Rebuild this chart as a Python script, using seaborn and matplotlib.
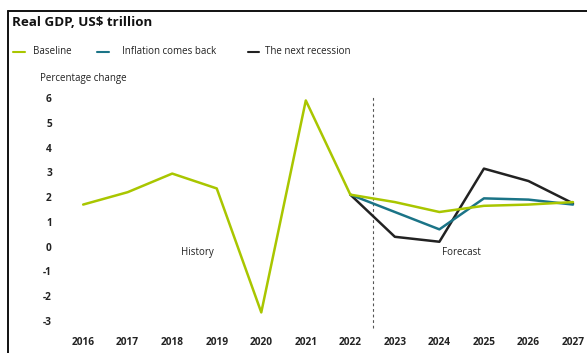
import matplotlib
matplotlib.use("Agg")
import matplotlib.pyplot as plt
from matplotlib.lines import Line2D
import seaborn as sns
import pandas as pd

years = list(range(2016, 2028))
baseline = [1.7, 2.2, 2.95, 2.35, -2.65, 5.9, 2.1, 1.8, 1.4, 1.65, 1.7, 1.8]
fc_years = list(range(2022, 2028))
inflation = [2.1, 1.4, 0.7, 1.95, 1.9, 1.7]
recession = [2.1, 0.4, 0.2, 3.15, 2.65, 1.75]
series_names = ["Baseline", "Inflation comes back", "The next recession"]
colors = ["#a9c600", "#1b7487", "#222222"]
yticks = list(range(-3, 7))

df = pd.concat([
    pd.DataFrame({"year": years, "value": baseline, "series": series_names[0]}),
    pd.DataFrame({"year": fc_years, "value": inflation, "series": series_names[1]}),
    pd.DataFrame({"year": fc_years, "value": recession, "series": series_names[2]}),
])

sns.set_theme(style="white")
plt.rcParams["font.family"] = ["Open Sans", "DejaVu Sans"]

W, H = 587, 353
fig = plt.figure(figsize=(W / 100, H / 100), dpi=100)
ax_l, ax_r, ax_t, ax_b = 56, 585, 95, 330
ax = fig.add_axes([ax_l / W, 1 - ax_b / H, (ax_r - ax_l) / W, (ax_b - ax_t) / H])

pal = dict(zip(series_names, colors))
order = [series_names[2], series_names[1], series_names[0]]
for name in order:
    sub = df[df["series"] == name]
    sns.lineplot(data=sub, x="year", y="value", color=pal[name], lw=1.8, ax=ax,
                 legend=False, zorder=3)

ax.set_xlim(2015.39, 2027.27)
ax.set_ylim(-3.36, 6.12)
ax.set_xticks(years)
ax.set_xticklabels([str(y) for y in years], fontsize=7.3, fontweight="bold", color="#222222")
ax.set_yticks(yticks)
ax.set_yticklabels([str(t) for t in yticks], fontsize=7.3, fontweight="bold", color="#222222")
ax.tick_params(axis="both", length=0)
ax.tick_params(axis="x", pad=5)
ax.tick_params(axis="y", pad=3)
ax.set_xlabel("")
ax.set_ylabel("")
for s in ax.spines.values():
    s.set_visible(False)

ax.axvline(2022.5, color="#555555", lw=0.8, ls=(0, (2.5, 2.5)), ymin=0.01, ymax=0.99, zorder=1)
ax.text(2018.56, -0.25, "History", fontsize=7, ha="center", va="center", color="#222222")
ax.text(2024.5, -0.25, "Forecast", fontsize=7, ha="center", va="center", color="#222222")

fig.text(40 / W, 1 - 79 / H, "Percentage change", fontsize=7, ha="left", va="center", color="#222222")
fig.text(12 / W, 1 - 22 / H, "Real GDP, US$ trillion", fontsize=9.6, fontweight="bold",
         ha="left", va="center", color="#111111")

# legend drawn at reference positions
leg_line_x = [(13, 25), (97, 109), (248, 259)]
leg_text_x = [33, 122, 265]
leg_y = 1 - 52 / H
for (x0, x1), tx, c, name in zip(leg_line_x, leg_text_x, colors, series_names):
    fig.add_artist(Line2D([x0 / W, x1 / W], [leg_y, leg_y], color=c, lw=1.5))
    fig.text(tx / W, leg_y, name, fontsize=7, ha="left", va="center", color="#222222")

# frame lines (top and left)
fig.add_artist(Line2D([8 / W, 1.0], [1 - 11 / H, 1 - 11 / H], color="#111111", lw=1.4))
fig.add_artist(Line2D([8 / W, 8 / W], [0, 1 - 11 / H], color="#111111", lw=1.4))

fig.savefig("out.png", dpi=100)
